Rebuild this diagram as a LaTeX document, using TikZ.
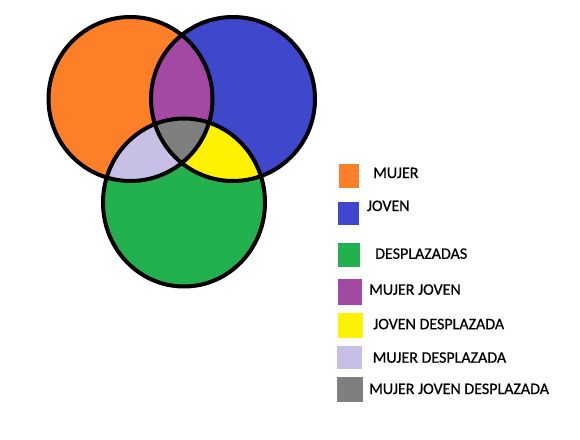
\documentclass[tikz,border=0pt]{standalone}
\usepackage{fontspec}
\setmainfont{Carlito}
\newfontfamily\legendfont[FakeBold=0.6]{Carlito}
\definecolor{corange}{HTML}{FD7F28}
\definecolor{cblue}{HTML}{3F48CC}
\definecolor{cgreen}{HTML}{22B14C}
\definecolor{cpurple}{HTML}{A349A4}
\definecolor{cyellow}{HTML}{FFF200}
\definecolor{clav}{HTML}{C8BFE7}
\definecolor{cgray}{HTML}{7F7F7F}
\tikzset{
  outline/.style={draw=black, line width=4pt},
  sq/.style={draw=none, inner sep=0pt, minimum width=#1},
  lbl/.style={anchor=base west, inner sep=0pt, font=\legendfont\fontsize{16}{18}\selectfont, text=black}
}
\begin{document}
\begin{tikzpicture}[x=1pt,y=-1pt]
\useasboundingbox[fill=white] (0,0) rectangle (580,439);
\coordinate (O) at (130.5,99);
\coordinate (B) at (233,99);
\coordinate (G) at (184,202.5);
% base fills
\fill[corange] (O) circle (82pt);
\fill[cblue] (B) circle (82pt);
\fill[cgreen] (G) ellipse (81pt and 84pt);
% pairwise intersections
\begin{scope}
  \clip (O) circle (82pt);
  \fill[cpurple] (B) circle (82pt);
\end{scope}
\begin{scope}
  \clip (O) circle (82pt);
  \fill[clav] (G) ellipse (81pt and 84pt);
\end{scope}
\begin{scope}
  \clip (B) circle (82pt);
  \fill[cyellow] (G) ellipse (81pt and 84pt);
\end{scope}
\begin{scope}
  \clip (O) circle (82pt);
  \clip (B) circle (82pt);
  \fill[cgray] (G) ellipse (81pt and 84pt);
\end{scope}
% outlines
\draw[outline] (O) circle (82pt);
\draw[outline] (B) circle (82pt);
\draw[outline] (G) ellipse (81pt and 84pt);
% legend squares
\node[sq=20pt, minimum height=24pt, fill=corange] (s1) at (349,176) {};
\node[sq=21pt, minimum height=23pt, fill=cblue] (s2) at (348.5,213.5) {};
\node[sq=22pt, minimum height=24pt, fill=cgreen] (s3) at (349,255) {};
\node[sq=24pt, minimum height=26pt, fill=cpurple] (s4) at (350,292) {};
\node[sq=25pt, minimum height=25pt, fill=cyellow] (s5) at (350.5,325.5) {};
\node[sq=25pt, minimum height=23pt, fill=clav] (s6) at (349.5,357.5) {};
\node[sq=26pt, minimum height=25pt, fill=cgray] (s7) at (350,389.5) {};
% legend labels
\node[lbl] (t1) at (373,178) {MUJER};
\node[lbl] (t2) at (366.7,211) {JOVEN};
\node[lbl] (t3) at (375,258.8) {DESPLAZADAS};
\node[lbl] (t4) at (369,294.7) {MUJER JOVEN};
\node[lbl] (t5) at (373,329.2) {JOVEN DESPLAZADA};
\node[lbl] (t6) at (372.5,362.7) {MUJER DESPLAZADA};
\node[lbl] (t7) at (369,394) {MUJER JOVEN DESPLAZADA};
\end{tikzpicture}
\end{document}
